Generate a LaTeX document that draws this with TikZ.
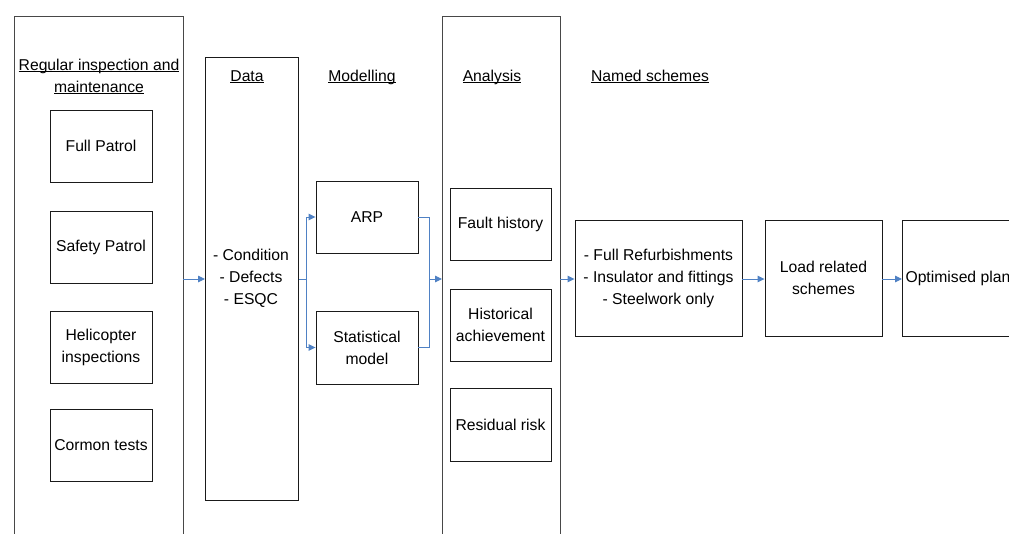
\documentclass[tikz,border=0pt]{standalone}
\usepackage{fontspec}
\setmainfont{Liberation Sans}
\usetikzlibrary{arrows.meta}
\definecolor{arr}{HTML}{4F81C4}
\definecolor{edge}{HTML}{1A1A1A}
\newcommand{\fnt}{\fontsize{15.7}{22}\selectfont}
\newcommand{\ul}[1]{\underline{\smash{#1}}}
\tikzset{
  box/.style={draw=edge, line width=0.9pt, align=center, font=\fnt},
  bigbox/.style={draw=edge!80, line width=1pt},
  lbl/.style={font=\fnt, align=center},
  conn/.style={draw=arr, line width=0.9pt},
  arrow/.style={conn, -{Triangle[length=7pt,width=6.5pt]}},
}
\begin{document}
\begin{tikzpicture}[x=1pt,y=-1pt]
\useasboundingbox (0,0) rectangle (1009,533);
% large containers
\draw[bigbox] (14,545) -- (14,16) -- (183,16) -- (183,545);
\draw[bigbox] (442,545) -- (442,16) -- (560,16) -- (560,545);
\node[box, minimum width=93pt, minimum height=443pt, anchor=north west] (data) at (205,57) {};
% headings
\node[lbl] (hreg) at (99,82) {\ul{Regular inspection and}\\\ul{maintenance}};
\node[lbl] (hdata) at (247,82) {\ul{Data}};
\node[lbl] (hmod) at (362,82) {\ul{Modelling}};
\node[lbl] (hana) at (492,82) {\ul{Analysis}};
\node[lbl] (hnam) at (650,82) {\ul{Named schemes}};
% left column
\node[box, minimum width=102pt, minimum height=72pt] (full) at (101,146) {Full Patrol};
\node[box, minimum width=102pt, minimum height=72pt] (safe) at (101,247) {Safety Patrol};
\node[box, minimum width=102pt, minimum height=72pt] (heli) at (101,347) {Helicopter\\inspections};
\node[box, minimum width=102pt, minimum height=72pt] (corm) at (101,445) {Cormon tests};
% data text
\node[lbl] (dtext) at (251,278) {- Condition\\- Defects\\- ESQC};
% modelling
\node[box, minimum width=102pt, minimum height=72pt] (arp) at (367,217) {ARP};
\node[box, minimum width=102pt, minimum height=73pt] (stat) at (367,347.5) {Statistical\\model};
% analysis
\node[box, minimum width=101pt, minimum height=72pt] (fault) at (500.5,224) {Fault history};
\node[box, minimum width=101pt, minimum height=72pt] (hist) at (500.5,325) {Historical\\achievement};
\node[box, minimum width=101pt, minimum height=73pt] (resid) at (500.5,424.5) {Residual risk};
% schemes
\node[box, minimum width=167pt, minimum height=116pt] (refurb) at (658.5,278) {- Full Refurbishments\\- Insulator and fittings\\- Steelwork only};
\node[box, minimum width=117pt, minimum height=116pt] (load) at (823.5,278) {Load related\\schemes};
\node[box, minimum width=130pt, minimum height=116pt, anchor=west, inner sep=0pt] (opt) at (902,278) {};
\node[lbl, anchor=west] (optt) at (902,278) {Optimised plan};
% connectors
\coordinate (regR) at (183,279);
\draw[arrow] (regR) -- (data.west |- regR);
\coordinate (fork) at (306,279);
\draw[conn] (data.east |- fork) -- (fork);
\draw[arrow] (fork) |- (arp.west);
\draw[arrow] (fork) |- (stat.west);
\coordinate (merge) at (429,279);
\draw[conn] (arp.east) -| (merge);
\draw[conn] (stat.east) -| (merge);
\draw[arrow] (merge) -- (442,279);
\draw[arrow] (560,279) -- (refurb.west |- 0,279);
\draw[arrow] (refurb.east |- 0,279) -- (load.west |- 0,279);
\draw[arrow] (load.east |- 0,279) -- (opt.west |- 0,279);
\end{tikzpicture}
\end{document}
